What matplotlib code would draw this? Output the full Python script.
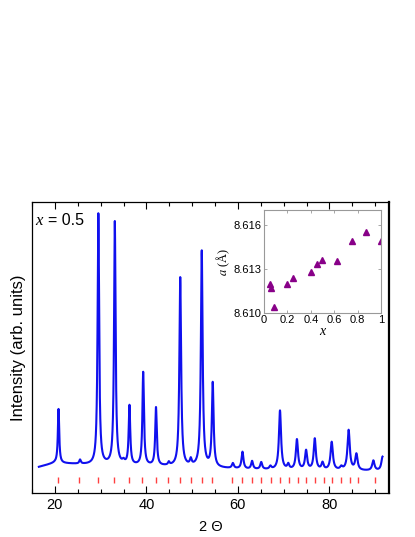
import matplotlib.pyplot as plt
import numpy as np

# === Data ===
# XRD pattern described by peak positions / heights above background
peak_pos = [20.8, 25.5, 29.5, 33.1, 35.0, 36.3, 39.3, 42.1, 44.9, 47.4, 49.7, 52.1,
            54.5, 58.9, 61.0, 63.1, 65.1, 67.1, 69.2, 71.0, 72.9, 74.9, 76.8,
            78.5, 80.5, 82.6, 84.2, 85.9, 89.6, 91.6]
peak_height = [54, 4, 251, 243, 3, 59, 93, 58, 3, 189, 6, 216,
               84, 5, 17, 8, 7, 3, 59, 5, 30, 19, 31,
               7, 28, 3, 40, 16, 10, 14]
peak_fwhm = [0.35, 0.4, 0.4, 0.4, 0.6, 0.4, 0.4, 0.4, 0.4, 0.45, 0.45, 0.45,
             0.45, 0.5, 0.5, 0.5, 0.5, 0.5, 0.55, 0.5, 0.55, 0.55, 0.55,
             0.55, 0.6, 0.6, 0.6, 0.6, 0.6, 0.6]
bg_x = [16.5, 20.0, 24.0, 28.0, 35.0, 45.0, 55.0, 62.0, 70.0, 80.0, 91.6]
bg_y = [26, 30, 29, 28, 27.5, 26.5, 25, 23.5, 23, 22.5, 22]

# Bragg reflection markers
bragg_pos = [20.75, 25.33, 29.32, 32.97, 36.16, 39.15, 42.06, 44.82, 47.29, 49.76,
             52.16, 54.42, 58.78, 60.96, 63.15, 65.11, 67.14, 69.10, 71.15, 73.10,
             74.93, 76.89, 78.78, 80.60, 82.56, 84.40, 86.35, 89.98]

# Inset: lattice parameter vs x
x_comp = [0.05, 0.0625, 0.083, 0.2, 0.25, 0.4, 0.45, 0.5, 0.625, 0.75, 0.875, 1.0]
a_latt = [8.6120, 8.6117, 8.6104, 8.6120, 8.6124, 8.6128, 8.6133, 8.6136,
          8.6135, 8.6149, 8.6155, 8.6149]

# === Build the profile from the peak list ===
tt = np.linspace(16.5, 91.6, 4000)
intensity = np.interp(tt, bg_x, bg_y)
for p, h, w in zip(peak_pos, peak_height, peak_fwhm):
    g = w / 2
    intensity = intensity + h * g**2 / ((tt - p)**2 + g**2)

plt.rcParams['font.family'] = ['Liberation Sans', 'DejaVu Sans']
plt.rcParams['mathtext.fontset'] = 'stix'

fig = plt.figure(figsize=(4.15, 5.37), dpi=100)
ax = fig.add_axes([0.0771, 0.0819, 0.860, 0.542])

ax.plot(tt, intensity, color='#1010ee', linewidth=1.5)
ax.vlines(bragg_pos, 10, 16, color='#ff4040', linewidth=1.0)

ax.set_xlim(15, 93)
ax.set_ylim(0, 291)
ax.set_xticks([20, 40, 60, 80])
ax.set_xticks(np.arange(15, 95, 5), minor=True)
ax.set_yticks([])
ax.tick_params(axis='x', which='both', direction='in', top=True, bottom=True,
               labelsize=10.5, width=0.8)
ax.tick_params(axis='x', which='major', length=5)
ax.tick_params(axis='x', which='minor', length=3)
for s in ax.spines.values():
    s.set_linewidth(0.9)
ax.spines['right'].set_linewidth(1.6)

ax.set_xlabel('2 Θ', fontsize=10.5, labelpad=6)
ax.set_ylabel('Intensity (arb. units)', fontsize=12, labelpad=4)

ax.text(0.008, 0.935, 'x', transform=ax.transAxes, fontsize=12,
        family='Liberation Serif', style='italic', va='center', ha='left')
ax.text(0.044, 0.935, '= 0.5', transform=ax.transAxes, fontsize=11.5,
        va='center', ha='left')

# === Inset ===
ins = fig.add_axes([0.636, 0.4171, 0.282, 0.192])
ins.plot(x_comp, a_latt, linestyle='none', marker='^', markersize=5,
         color='#880088')
ins.set_xlim(0, 1)
ins.set_ylim(8.610, 8.617)
ins.set_xticks([0, 0.2, 0.4, 0.6, 0.8, 1.0])
ins.set_xticklabels(['0', '0.2', '0.4', '0.6', '0.8', '1'])
ins.set_yticks([8.610, 8.613, 8.616])
ins.set_yticklabels(['8.610', '8.613', '8.616'])
ins.tick_params(which='both', direction='in', top=True, right=True,
                labelsize=8, length=2.5, width=0.6, colors='#999999',
                labelcolor='black', pad=1.5)
for s in ins.spines.values():
    s.set_color('#999999')
    s.set_linewidth(0.8)
ins.set_xlabel('x', fontsize=10, family='Liberation Serif', style='italic',
               labelpad=0)
ins.set_ylabel(r'$a$ (Å)', fontsize=9, family='Liberation Serif', labelpad=1)

fig.savefig('out.png', dpi=100)
